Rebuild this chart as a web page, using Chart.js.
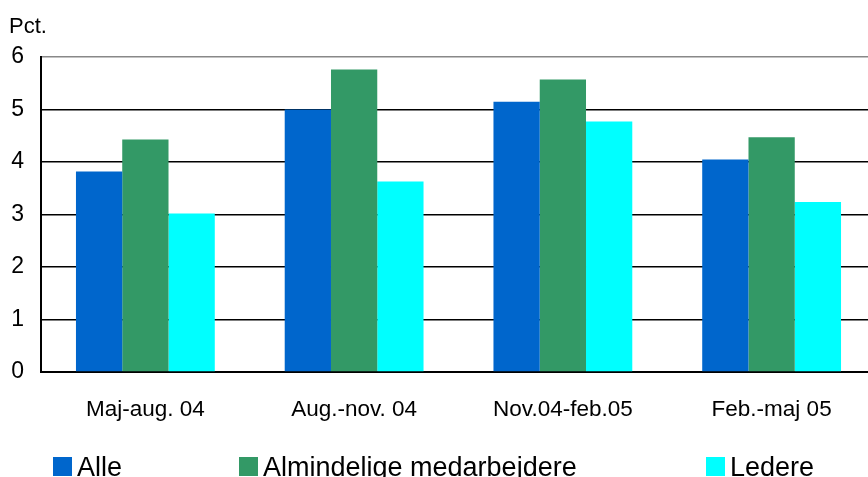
<!DOCTYPE html>
<html>
<head>
<meta charset="utf-8">
<script src="https://cdn.jsdelivr.net/npm/chart.js@4/dist/chart.umd.min.js"></script>
<style>
html,body{margin:0;padding:0;background:#fff;overflow:hidden;}
#wrap{position:relative;width:868px;height:477px;overflow:hidden;}
#c{position:absolute;left:0;top:0;}
</style>
</head>
<body>
<div id="wrap"><canvas id="c" width="876" height="477"></canvas></div>
<script>
const categories = ["Maj-aug. 04", "Aug.-nov. 04", "Nov.04-feb.05", "Feb.-maj 05"];
const seriesNames = ["Alle", "Almindelige medarbejdere", "Ledere"];
const alle = [3.82, 5.00, 5.15, 4.05];
const almindelige = [4.43, 5.76, 5.57, 4.47];
const ledere = [3.02, 3.63, 4.77, 3.24];
const yTicks = [0, 1, 2, 3, 4, 5, 6];
const yUnitLabel = "Pct.";

const colors = ["#0066CC", "#339966", "#00FFFF"];
const FONT = "'Liberation Sans', Arial, sans-serif";

const legendPlugin = {
  id: 'customLegend',
  afterDraw(chart) {
    const ctx = chart.ctx;
    const xs = [53, 239, 706];
    ctx.save();
    ctx.font = "27px " + FONT;
    ctx.textBaseline = "alphabetic";
    ctx.textAlign = "left";
    chart.data.datasets.forEach((ds, i) => {
      ctx.fillStyle = ds.backgroundColor;
      ctx.fillRect(xs[i], 457, 19, 19);
      ctx.fillStyle = "#000";
      ctx.fillText(ds.label, xs[i] + 24, 476);
    });
    ctx.font = "22px " + FONT;
    ctx.fillText(yUnitLabel, 9, 33);
    ctx.restore();
  }
};

new Chart(document.getElementById('c'), {
  type: 'bar',
  data: {
    labels: categories,
    datasets: [
      { label: seriesNames[0], data: alle, backgroundColor: colors[0] },
      { label: seriesNames[1], data: almindelige, backgroundColor: colors[1] },
      { label: seriesNames[2], data: ledere, backgroundColor: colors[2] }
    ]
  },
  options: {
    responsive: false,
    animation: false,
    layout: { padding: { left: 0, right: 0, top: 57, bottom: 0 } },
    datasets: { bar: { categoryPercentage: 0.665, barPercentage: 1.0, borderWidth: 0 } },
    plugins: { legend: { display: false }, tooltip: { enabled: false } },
    scales: {
      x: {
        grid: { display: false, drawTicks: false },
        border: { display: true, color: '#000', width: 2 },
        ticks: { color: '#000', font: { family: FONT, size: 22.5 }, padding: 24, maxRotation: 0, autoSkip: false },
        afterFit(scale) { scale.height = 105; }
      },
      y: {
        min: 0, max: 6,
        afterBuildTicks(scale) { scale.ticks = yTicks.map(v => ({ value: v })); },
        grid: {
          drawTicks: false,
          color: (c) => (c.tick && c.tick.value === 6) ? '#888888' : '#000000',
          lineWidth: 1.5
        },
        border: { display: true, color: '#000', width: 2 },
        ticks: { color: '#000', font: { family: FONT, size: 23 }, padding: 17 },
        afterFit(scale) { scale.width = 41; }
      }
    }
  },
  plugins: [legendPlugin]
});
</script>
</body>
</html>
